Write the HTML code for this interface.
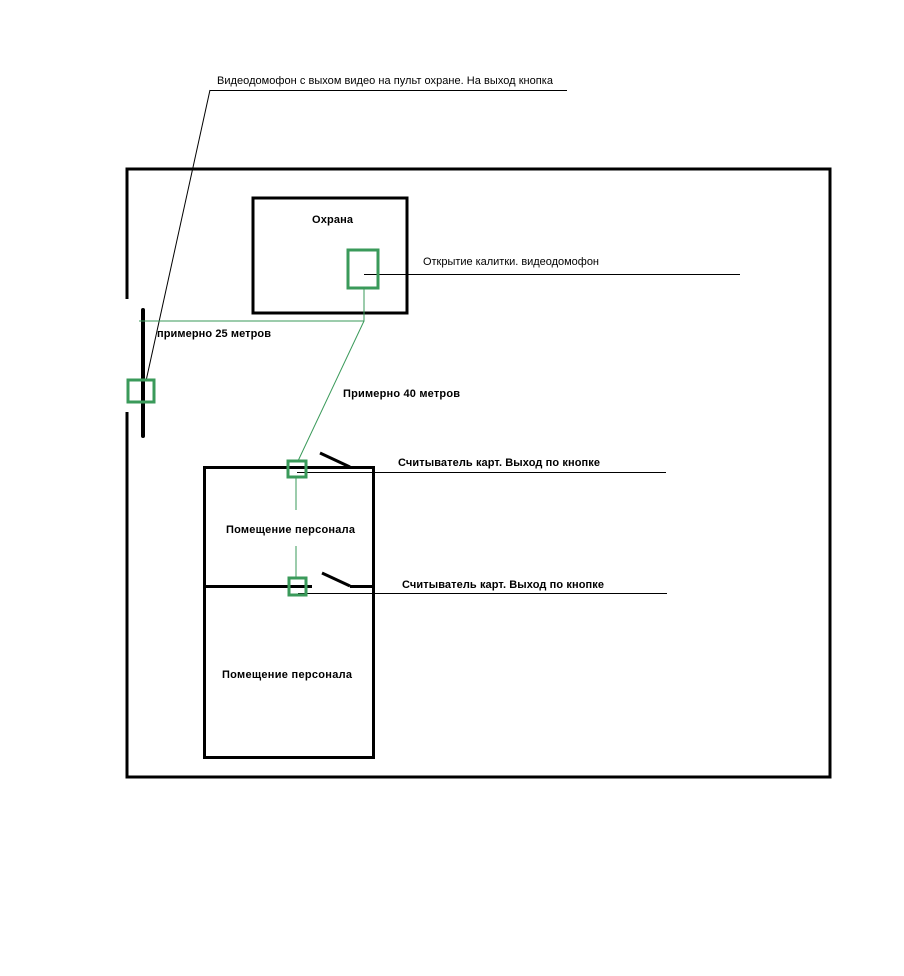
<!DOCTYPE html>
<html><head><meta charset="utf-8"><style>html,body{margin:0;padding:0;background:#fff}svg{display:block}text{font-family:"Liberation Sans",Arial,sans-serif;font-size:11px;fill:#000}.b{font-weight:bold}</style></head>
<body>
<svg width="904" height="976" viewBox="0 0 904 976" xmlns="http://www.w3.org/2000/svg">
<g stroke="#000" fill="none">
<!-- outer -->
<path d="M127 299 V169 H830 V777 H127 V412" stroke-width="3"/>
<line x1="143" y1="310" x2="143" y2="436" stroke-width="4" stroke-linecap="round"/>
<!-- okhrana -->
<rect x="253" y="198" width="154" height="115" stroke-width="3"/>
<!-- personnel -->
<rect x="204.5" y="467.5" width="169" height="290" stroke-width="3"/>
<line x1="204" y1="586.5" x2="312" y2="586.5" stroke-width="3"/>
<line x1="350" y1="586.5" x2="374" y2="586.5" stroke-width="3"/>
<line x1="320" y1="453" x2="350" y2="467" stroke-width="3"/>
<line x1="322" y1="573" x2="350" y2="586" stroke-width="3"/>
<!-- label lines -->
<line x1="210" y1="90.5" x2="567" y2="90.5" stroke-width="1"/>
<line x1="210" y1="90" x2="146" y2="381" stroke-width="1"/>
<line x1="364" y1="274.5" x2="740" y2="274.5" stroke-width="1"/>
<line x1="297" y1="472.5" x2="666" y2="472.5" stroke-width="1"/>
<line x1="298" y1="593.5" x2="667" y2="593.5" stroke-width="1"/>
</g>
<g stroke="#3a9a5a" fill="none">
<polyline points="364,288 364,321 139,321" stroke-width="1"/>
<line x1="364" y1="321" x2="298" y2="461" stroke-width="1"/>
<line x1="296" y1="477" x2="296" y2="510" stroke-width="1"/>
<line x1="296" y1="546" x2="296" y2="578" stroke-width="1"/>
<rect x="128" y="380" width="26" height="22" stroke-width="3"/>
<rect x="348" y="250" width="30" height="38" stroke-width="3"/>
<rect x="288" y="461" width="18" height="16" stroke-width="3"/>
<rect x="289" y="578" width="17" height="17" stroke-width="3"/>
</g>
<text x="217" y="84" textLength="336">Видеодомофон с выхом видео на пульт охране. На выход кнопка</text>
<text x="312" y="223" class="b" textLength="41">Охрана</text>
<text x="423" y="265" textLength="176">Открытие калитки. видеодомофон</text>
<text x="157" y="337" class="b" textLength="114">примерно 25 метров</text>
<text x="343" y="397" class="b" textLength="117">Примерно 40 метров</text>
<text x="398" y="466" class="b" textLength="202">Считыватель карт. Выход по кнопке</text>
<text x="402" y="588" class="b" textLength="202">Считыватель карт. Выход по кнопке</text>
<text x="226" y="533" class="b" textLength="129">Помещение персонала</text>
<text x="222" y="678" class="b" textLength="130">Помещение персонала</text>
</svg>
</body></html>
